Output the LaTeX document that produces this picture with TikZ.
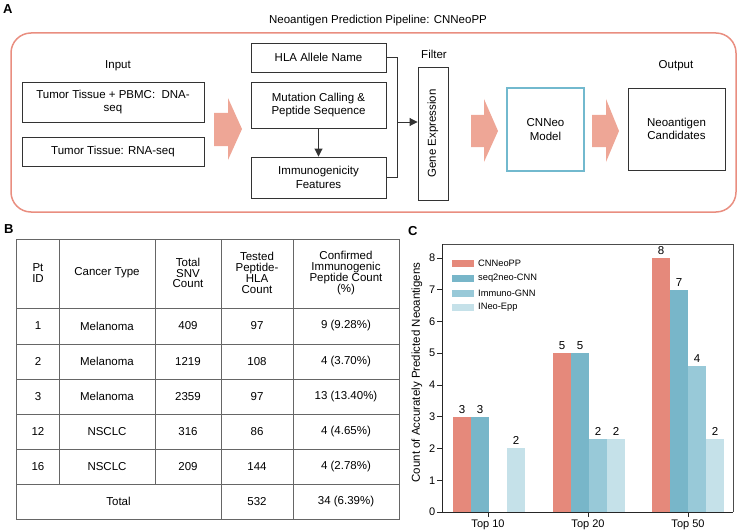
\documentclass[tikz,border=0pt]{standalone}
\usepackage{fontspec}
\setmainfont{Liberation Sans}
\usetikzlibrary{arrows.meta}
\definecolor{salmon}{HTML}{E98E80}
\definecolor{arrowfill}{HTML}{EEA696}
\definecolor{cnblue}{HTML}{72B9CE}
\definecolor{barA}{HTML}{E5897B}
\definecolor{barB}{HTML}{78B6C9}
\definecolor{barC}{HTML}{98C9D8}
\definecolor{barD}{HTML}{C5E1E9}
\definecolor{tblgray}{HTML}{666666}
\tikzset{
  txt/.style={font=\fontsize{11.5}{13.7}\selectfont, inner sep=0pt},
  boxA/.style={txt, draw=black!80, line width=0.9pt, align=center},
  hdr/.style={font=\fontsize{11.5}{10.8}\selectfont, inner sep=0pt, align=center},
  cell/.style={font=\fontsize{11.5}{13}\selectfont, inner sep=0pt},
  tline/.style={draw=tblgray, line width=0.8pt},
  bigarrow/.style={fill=arrowfill, draw=none},
  panel/.style={font=\bfseries\fontsize{13}{13}\selectfont, inner sep=0pt, anchor=north west},
  conn/.style={draw=black!80, line width=0.9pt},
  bar/.style={draw=none},
  barlbl/.style={font=\fontsize{11.5}{12}\selectfont, inner sep=0pt, anchor=south},
  ticklbl/.style={font=\fontsize{11}{12}\selectfont, inner sep=0pt},
  leglbl/.style={font=\fontsize{9.3}{10}\selectfont, inner sep=0pt, anchor=west},
}
\begin{document}
\begin{tikzpicture}[x=1pt,y=-1pt]
\useasboundingbox (0,0) rectangle (738,532);
% ---------------- Panel A ----------------
\node[panel] (labA) at (3,4) {A};
\node[txt] (title) at (378,21) {Neoantigen Prediction Pipeline: CNNeoPP};
\draw[salmon, line width=1.5pt, rounded corners=20pt] (11,33) rectangle (736,212);

\node[txt] (inputlbl) at (118,66) {Input};
\node[boxA, minimum width=182pt, minimum height=40pt] (dna) at (113,102) {Tumor Tissue + PBMC:\ \ DNA-\\seq};
\node[boxA, minimum width=182pt, minimum height=29pt] (rna) at (113,151.5) {Tumor Tissue: RNA-seq};

\fill[bigarrow] (214,113) -- (228,113) -- (228,98) -- (242,129) -- (228,160) -- (228,146) -- (214,146) -- cycle;

\node[boxA, minimum width=135pt, minimum height=29pt] (hla) at (318.5,57.5) {HLA Allele Name};
\node[boxA, minimum width=135pt, minimum height=46pt] (mut) at (318.5,105) {Mutation Calling \&\\Peptide Sequence};
\node[boxA, minimum width=135pt, minimum height=41pt] (imm) at (318.5,177.5) {Immunogenicity\\Features};
\draw[conn, -{Triangle[length=8pt,width=8pt]}] (mut) -- (imm);

\node[txt] (filterlbl) at (434,54) {Filter};
\node[boxA, rotate=90, minimum width=133pt, minimum height=30pt] (gene) at (433,133.5) {Gene Expression};

\coordinate (brk) at (397,122);
\draw[conn] (hla.east) -- (hla.east -| brk) -- (imm.east -| brk) -- (imm.east);
\draw[conn, -{Triangle[length=8pt,width=8pt]}] (brk) -- (gene.north |- brk);

\fill[bigarrow] (471,115) -- (484,115) -- (484,99) -- (498,131) -- (484,162) -- (484,147) -- (471,147) -- cycle;
\node[txt, draw=cnblue, line width=1.3pt, align=center, minimum width=77pt, minimum height=83pt] (cnneo) at (545.5,129.5) {CNNeo\\Model};
\fill[bigarrow] (592,115) -- (606,115) -- (606,99) -- (619,131) -- (606,162) -- (606,147) -- (592,147) -- cycle;

\node[txt] (outputlbl) at (676,66) {Output};
\node[boxA, minimum width=97pt, minimum height=82pt] (cand) at (676.5,129) {Neoantigen\\Candidates};

% ---------------- Panel B ----------------
\node[panel] (labB) at (4,224) {B};
% table grid
\draw[tline] (16,239) rectangle (399,519);
\foreach \yy in {308,344,379,414,449,484} \draw[tline] (16,\yy) -- (399,\yy);
\draw[tline] (59,239) -- (59,484);
\draw[tline] (155,239) -- (155,484);
\draw[tline] (221,239) -- (221,519);
\draw[tline] (293,239) -- (293,519);
% header
\node[hdr] (h1) at (38,273) {Pt\\ID};
\node[hdr] (h2) at (107,273) {Cancer Type};
\node[hdr] (h3) at (188,273) {Total\\SNV\\Count};
\node[hdr] (h4) at (257,273) {Tested\\Peptide-\\HLA\\Count};
\node[hdr] (h5) at (346,273) {Confirmed\\Immunogenic\\Peptide Count\\(\%)};
% rows
\foreach \yy/\a/\b/\c/\d/\e in {326/1/Melanoma/409/97/9 (9.28\%),
  361.5/2/Melanoma/1219/108/4 (3.70\%),
  396.5/3/Melanoma/2359/97/13 (13.40\%),
  431.5/12/NSCLC/316/86/4 (4.65\%),
  466.5/16/NSCLC/209/144/4 (2.78\%)}{
  \node[cell] at (38,\yy) {\a};
  \node[cell] at (107,\yy) {\b};
  \node[cell] at (188,\yy) {\c};
  \node[cell] at (257,\yy) {\d};
  \node[cell] at (346,\yy) {\e};
}
\node[cell] (tot) at (118.5,501.5) {Total};
\node[cell] (tot4) at (257,501.5) {532};
\node[cell] (tot5) at (346,501.5) {34 (6.39\%)};

% ---------------- Panel C ----------------
\node[panel] (labC) at (408,226) {C};
% bars: y0=512, unit=31.75
\def\yb{512}
\def\un{31.75}
\foreach \xc/\v/\col in {453/3/barA,471/3/barB,507/2.02/barD,
  553/5/barA,571/5/barB,589/2.3/barC,607/2.3/barD,
  652/8/barA,670/7/barB,688/4.6/barC,706/2.3/barD}{
  \fill[\col] (\xc,\yb) rectangle (\xc+18,\yb-\v*\un);
}
% bar labels
\foreach \xc/\v/\t in {462/3/3,480/3/3,516/2.02/2,
  562/5/5,580/5/5,598/2.3/2,616/2.3/2,
  661/8/8,679/7/7,697/4.6/4,715/2.3/2}{
  \node[barlbl] at (\xc,\yb-\v*\un-3) {\t};
}
% frame
\draw[black!70, line width=0.6pt] (442,244) -- (733,244) -- (733,512);
\draw[black!85, line width=0.9pt] (442,244) -- (442,512) -- (733,512);
% y ticks
\foreach \k in {0,...,8}{
  \draw[black!85, line width=0.8pt] (437,\yb-\k*\un) -- (442,\yb-\k*\un);
  \node[ticklbl, anchor=east] at (435.5,\yb-\k*\un) {\k};
}
% x ticks
\foreach \xc/\t in {488/Top 10,588/Top 20,688/Top 50}{
  \draw[black!85, line width=0.8pt] (\xc,512) -- (\xc,517);
  \node[ticklbl] at (\xc,525) {\t};
}
\node[font=\fontsize{11.5}{12}\selectfont, inner sep=0pt, rotate=90] (ylab) at (417,372.5) {Count of Accurately Predicted Neoantigens};
% legend
\foreach \yy/\col/\t in {263/barA/CNNeoPP,278.5/barB/seq2neo-CNN,293/barC/Immuno-GNN,307/barD/INeo-Epp}{
  \fill[\col] (452,\yy-3.5) rectangle (474,\yy+3.5);
  \node[leglbl] at (478,\yy) {\t};
}
\end{tikzpicture}
\end{document}
